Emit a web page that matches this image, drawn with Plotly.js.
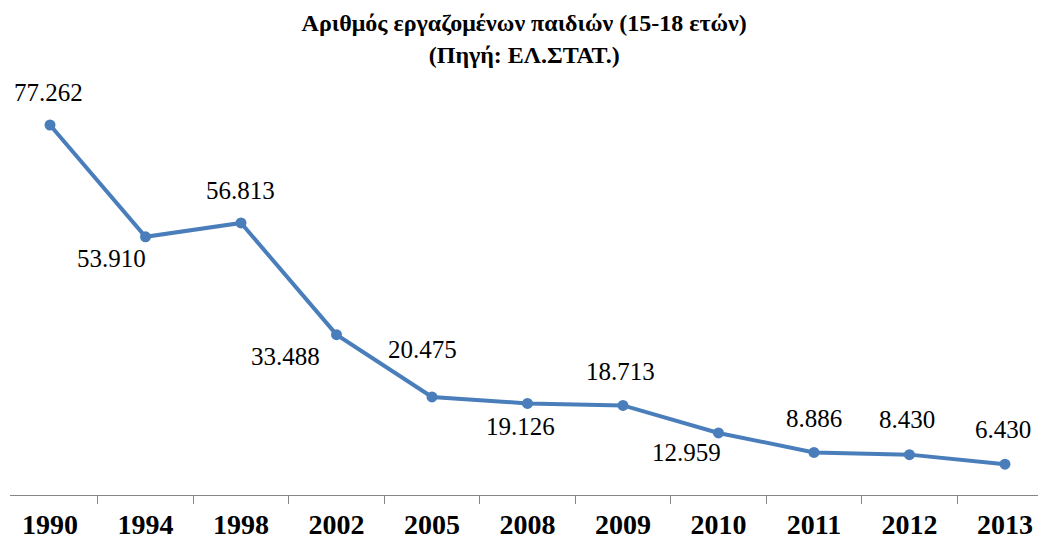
<!DOCTYPE html>
<html>
<head>
<meta charset="utf-8">
<script src="https://cdn.plot.ly/plotly-3.0.1.min.js"></script>
<style>
  html, body { margin: 0; padding: 0; background: #ffffff; }
  #chart { width: 1038px; height: 540px; }
</style>
</head>
<body>
<div id="chart"></div>
<script>
// Data
const years = ['1990', '1994', '1998', '2002', '2005', '2008', '2009', '2010', '2011', '2012', '2013'];
const workingChildren = [77262, 53910, 56813, 33488, 20475, 19126, 18713, 12959, 8886, 8430, 6430];

// Label offsets in pixels (style only): dx, dy (positive dy = down)
const labelDx = [-2, -34, -1, -51, -9, -7, -2, -32, 0, -2, -2];
const labelDy = [-33, 22, -32, 22, -47, 23, -34, 20, -34, -35, -35];

const SERIF = '"Liberation Serif", "Times New Roman", serif';

function fmt(v) {
  return String(v).replace(/\B(?=(\d{3})+(?!\d))/g, '.');
}

const trace = {
  x: years,
  y: workingChildren,
  type: 'scatter',
  mode: 'lines+markers',
  line: { color: '#4a7ebb', width: 4 },
  marker: { color: '#4a7ebb', size: 11 },
  hoverinfo: 'x+y',
  cliponaxis: false
};

const annotations = years.map((yr, i) => ({
  x: i,
  y: workingChildren[i],
  xref: 'x',
  yref: 'y',
  text: fmt(workingChildren[i]),
  showarrow: false,
  xanchor: 'center',
  yanchor: 'middle',
  xshift: labelDx[i],
  yshift: -labelDy[i],
  font: { family: SERIF, size: 25, color: '#000000' }
}));

const layout = {
  width: 1038,
  height: 540,
  paper_bgcolor: '#ffffff',
  plot_bgcolor: '#ffffff',
  margin: { l: 10, r: 0, t: 64, b: 45 },
  showlegend: false,
  title: {
    text: '<b>Αριθμός εργαζομένων παιδιών (15-18 ετών)<br>(Πηγή: ΕΛ.ΣΤΑΤ.)</b>',
    font: { family: SERIF, size: 24, color: '#000000' },
    x: 0.505,
    xanchor: 'center',
    y: 0.942,
    yanchor: 'top',
    yref: 'container'
  },
  xaxis: {
    type: 'category',
    range: [-0.419, 10.346],
    tickson: 'boundaries',
    ticks: 'outside',
    ticklen: 8,
    tickcolor: '#868686',
    tickwidth: 1,
    ticklabelstandoff: 4,
    showline: true,
    linecolor: '#868686',
    linewidth: 1,
    showgrid: false,
    zeroline: false,
    tickfont: { family: SERIF, size: 28, color: '#000000', weight: 'bold' },
    fixedrange: true
  },
  yaxis: {
    range: [0, 90000],
    visible: false,
    showgrid: false,
    zeroline: false,
    fixedrange: true
  },
  annotations: annotations
};

Plotly.newPlot('chart', [trace], layout, { displayModeBar: false, responsive: false });
</script>
</body>
</html>
